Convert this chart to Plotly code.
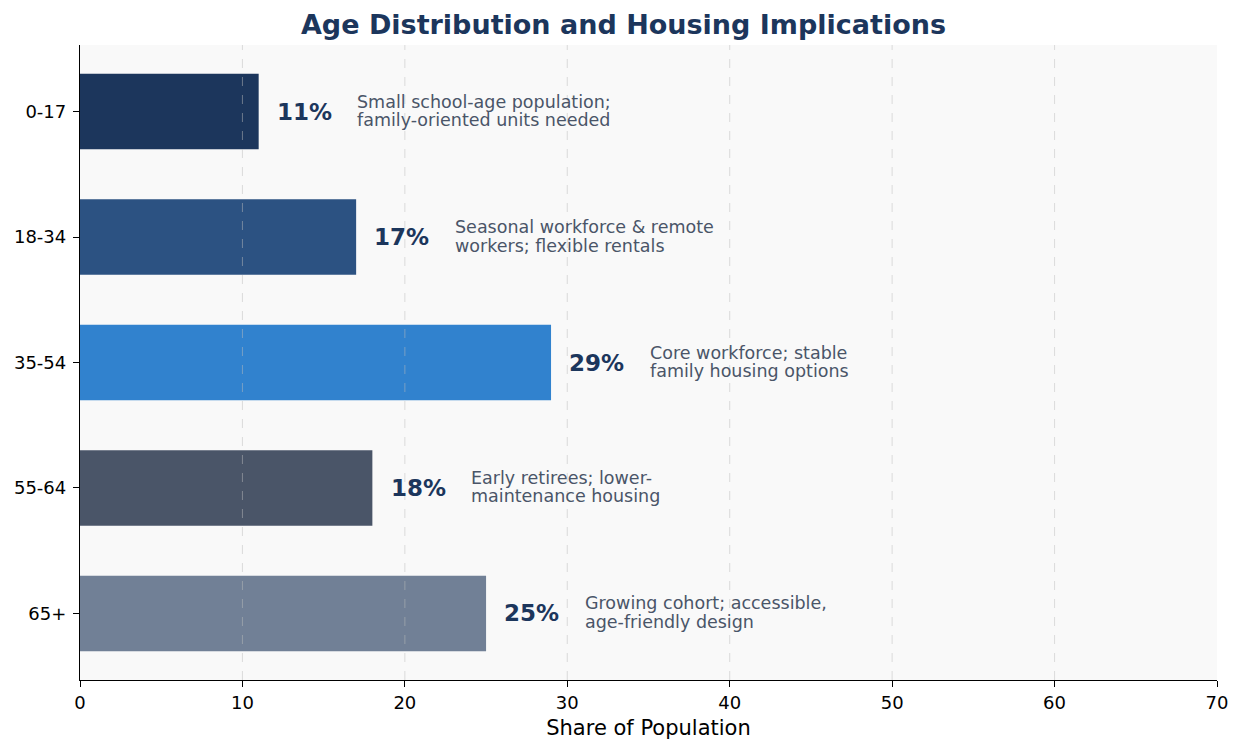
import plotly.graph_objects as go

categories = ["0-17", "18-34", "35-54", "55-64", "65+"]
shares = [11, 17, 29, 18, 25]
notes = [
    ("Small school-age population;", "family-oriented units needed"),
    ("Seasonal workforce & remote", "workers; flexible rentals"),
    ("Core workforce; stable", "family housing options"),
    ("Early retirees; lower-", "maintenance housing"),
    ("Growing cohort; accessible,", "age-friendly design"),
]
colors = ["#1c365c", "#2c5282", "#3182ce", "#4a5568", "#718096"]
grid_ticks = [10, 20, 30, 40, 50, 60]

fig = go.Figure()
fig.add_trace(go.Bar(
    x=shares, y=categories, orientation="h",
    marker=dict(color=colors, line=dict(width=0)),
    width=0.6, hoverinfo="skip",
))

for c, v, n in zip(categories, shares, notes):
    fig.add_annotation(x=v + 1, y=c, xref="x", yref="y", text=f"<b>{v}%</b>",
                       showarrow=False, xanchor="left", yanchor="middle",
                       font=dict(size=23, color="#1c365c", family="DejaVu Sans"))
    for line, shift in zip(n, (10, -8.5)):
        fig.add_annotation(x=v + 6, y=c, xref="x", yref="y", text=line,
                           showarrow=False, xanchor="left", yanchor="middle",
                           yshift=shift, borderpad=0,
                           font=dict(size=17.5, color="#4a5568", family="DejaVu Sans"))

for g in grid_ticks:
    fig.add_shape(type="line", x0=g, x1=g, y0=0, y1=1, xref="x", yref="paper",
                  line=dict(color="rgba(190,190,190,0.5)", width=1, dash="dash"),
                  layer="above")

fig.update_layout(
    template="none",
    width=1231, height=732,
    margin=dict(l=72, r=22, t=37, b=60, autoexpand=False),
    paper_bgcolor="white", plot_bgcolor="#f9f9f9",
    font=dict(family="DejaVu Sans", color="black"),
    title=dict(text="<b>Age Distribution and Housing Implications</b>",
               x=0.5, xanchor="center", y=0.978, yanchor="middle",
               font=dict(size=27, color="#1c365c")),
    showlegend=False,
    xaxis=dict(range=[0, 70], tickvals=[0, 10, 20, 30, 40, 50, 60, 70],
               automargin=False,
               showgrid=False, zeroline=False, showline=True, linecolor="black",
               linewidth=1.3, ticks="outside", ticklen=6, tickcolor="black",
               tickfont=dict(size=18), title=dict(text="Share of Population",
               font=dict(size=21), standoff=9)),
    yaxis=dict(categoryorder="array", categoryarray=categories,
               automargin=False,
               range=[4.53, -0.53], showgrid=False, zeroline=False,
               showline=True, linecolor="black", linewidth=1.3,
               ticks="outside", ticklen=6, tickcolor="black",
               ticklabelstandoff=3,
               tickfont=dict(size=18)),
)

fig.write_html("out.html")
